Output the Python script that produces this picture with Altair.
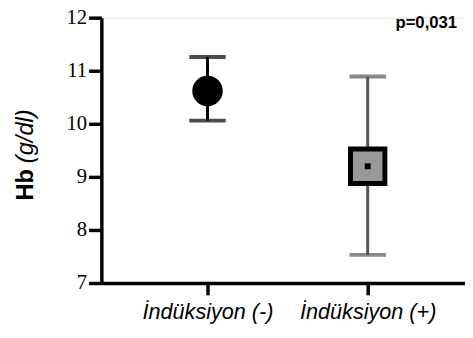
import altair as alt
import pandas as pd

groups = ["İndüksiyon (-)", "İndüksiyon (+)"]
means = [10.62, 9.20]
lows = [10.06, 7.53]
highs = [11.26, 10.89]
y_ticks = [7, 8, 9, 10, 11, 12]
p_text = "p=0,031"

df = pd.DataFrame({"group": groups, "mean": means, "low": lows, "high": highs})

x_enc = alt.X(
    "group:N",
    sort=groups,
    scale=alt.Scale(type="point", domain=groups, padding=0.635, align=0.5217),
    axis=alt.Axis(
        title=None,
        labelAngle=0,
        labelFont="Liberation Sans",
        labelFontStyle="italic",
        labelFontSize=22,
        labelColor="black",
        labelPadding=7,
        tickSize=12,
        tickWidth=3.5,
        tickColor="black",
        domainColor="black",
        domainWidth=3.5,
        grid=False,
    ),
)
y_scale = alt.Scale(domain=[7, 12], nice=False, zero=False)
y_axis = alt.Axis(
    title=None,
    values=y_ticks,
    labelFont="Liberation Serif, Times New Roman, serif",
    labelFontSize=21,
    labelColor="black",
    labelPadding=2,
    tickSize=13,
    tickWidth=3.5,
    tickColor="black",
    domainColor="black",
    domainWidth=3.5,
    grid=False,
)
color = alt.Color("group:N", scale=alt.Scale(domain=groups, range=["#000000", "#555555"]), legend=None)

base = alt.Chart(df)

rules = base.mark_rule(strokeWidth=3).encode(
    x=x_enc, y=alt.Y("low:Q", scale=y_scale, axis=y_axis), y2="high:Q", color=color
)
cap_hi = base.mark_tick(thickness=4, size=37).encode(x=x_enc, y=alt.Y("high:Q", scale=y_scale), color=color)
cap_lo = base.mark_tick(thickness=4, size=37).encode(x=x_enc, y=alt.Y("low:Q", scale=y_scale), color=color)

circle = base.transform_filter(alt.datum.group == groups[0]).mark_circle(
    size=962, color="black", opacity=1
).encode(x=x_enc, y=alt.Y("mean:Q", scale=y_scale))

square = base.transform_filter(alt.datum.group == groups[1]).mark_square(
    size=1225, fill="#999999", stroke="black", strokeWidth=5, filled=True, opacity=1, fillOpacity=1
).encode(x=x_enc, y=alt.Y("mean:Q", scale=y_scale))

dot = base.transform_filter(alt.datum.group == groups[1]).mark_square(
    size=36, color="black", opacity=1
).encode(x=x_enc, y=alt.Y("mean:Q", scale=y_scale))

title_hb = alt.Chart(pd.DataFrame({"t": ["Hb"]})).mark_text(
    font="Liberation Sans", fontWeight="bold", fontSize=24, angle=270, align="left",
    baseline="alphabetic", color="black"
).encode(text="t:N", x=alt.value(-70), y=alt.value(186))

title_unit = alt.Chart(pd.DataFrame({"t": ["(g/dl)"]})).mark_text(
    font="Liberation Sans", fontStyle="italic", fontSize=24, angle=270, align="left",
    baseline="alphabetic", color="black"
).encode(text="t:N", x=alt.value(-70), y=alt.value(148))

ptxt = alt.Chart(pd.DataFrame({"t": [p_text]})).mark_text(
    font="Liberation Sans", fontWeight="bold", fontSize=17, align="right",
    baseline="alphabetic", color="black"
).encode(text="t:N", x=alt.value(362), y=alt.value(11))

chart = alt.layer(rules, cap_hi, cap_lo, circle, square, dot, title_hb, title_unit, ptxt).properties(
    width=370,
    height=270,
    padding={"left": 95, "top": 7, "right": 0, "bottom": 48},
    autosize=alt.AutoSizeParams(type="none"),
).configure_view(stroke=None).configure(background="white")

chart.save("out.html", embed_options={"renderer": "svg", "actions": False})
